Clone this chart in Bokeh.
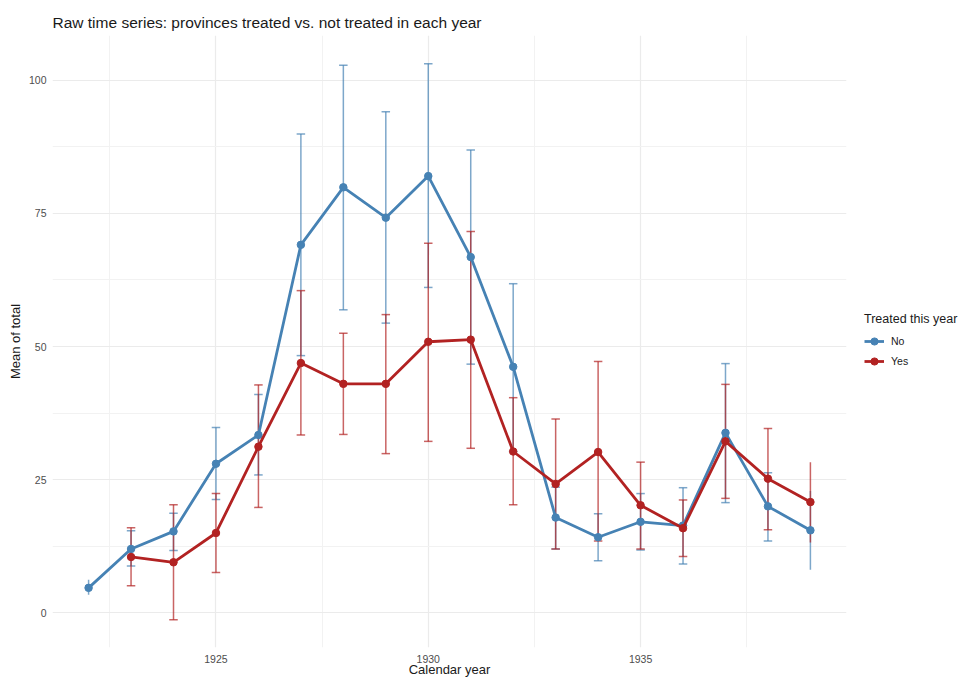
from bokeh.plotting import figure
from bokeh.models import Legend, LegendItem, FixedTicker, Range1d
from bokeh.embed import file_html
from bokeh.resources import INLINE

# Mean of total by calendar year, with confidence bounds, per treatment group
years_no = [1922, 1923, 1924, 1925, 1926, 1927, 1928, 1929, 1930,
            1931, 1932, 1933, 1934, 1935, 1936, 1937, 1938, 1939]
mean_no = [4.7, 12.0, 15.3, 28.0, 33.4, 69.1, 79.9, 74.2, 82.0,
           66.8, 46.2, 17.9, 14.2, 17.1, 16.4, 33.8, 20.0, 15.5]
lower_no = [3.4, 8.8, 11.7, 21.3, 25.9, 48.3, 56.9, 54.4, 61.1,
            46.7, 30.3, 12.0, 9.8, 11.8, 9.2, 20.7, 13.5, 8.1]
upper_no = [6.2, 15.4, 18.7, 34.8, 41.0, 89.9, 102.8, 94.1, 103.1,
            86.9, 61.8, 23.6, 18.6, 22.4, 23.5, 46.8, 26.3, 22.9]

years_yes = [1923, 1924, 1925, 1926, 1927, 1928, 1929, 1930,
             1931, 1932, 1933, 1934, 1935, 1936, 1937, 1938, 1939]
mean_yes = [10.5, 9.5, 15.0, 31.2, 46.9, 43.0, 43.0, 50.9,
            51.3, 30.3, 24.2, 30.2, 20.2, 15.9, 32.2, 25.2, 20.8]
lower_yes = [5.1, -1.3, 7.6, 19.8, 33.4, 33.5, 29.9, 32.2,
             30.9, 20.3, 12.0, 13.5, 12.0, 10.6, 21.5, 15.6, 13.2]
upper_yes = [16.0, 20.3, 22.4, 42.8, 60.5, 52.5, 56.0, 69.4,
             71.6, 40.4, 36.4, 47.2, 28.3, 21.2, 42.9, 34.6, 28.3]

x_ticks = [1925, 1930, 1935]
x_minor = [1922.5, 1927.5, 1932.5, 1937.5]
y_ticks = [0, 25, 50, 75, 100]
y_minor = [12.5, 37.5, 62.5, 87.5]

groups = [
    ("No", "#4682B4", years_no, mean_no, lower_no, upper_no),
    ("Yes", "#B22222", years_yes, mean_yes, lower_yes, upper_yes),
]

FONT = "Liberation Sans"
CAP = 0.1  # half-width of the error-bar caps, in years

p = figure(frame_width=794, frame_height=612, output_backend="svg",
           toolbar_location=None,
           x_range=Range1d(1921.15, 1939.85), y_range=Range1d(-6.5, 108.4),
           min_border_left=52, min_border_right=0, min_border_top=35,
           min_border_bottom=0)

p.background_fill_color = "white"
p.border_fill_color = "white"
p.outline_line_color = None

p.title.text = "Raw time series: provinces treated vs. not treated in each year"
p.title.text_font = FONT
p.title.text_font_size = "15.5px"
p.title.text_font_style = "normal"
p.title.text_color = "#1A1A1A"
p.title.offset = 0

p.xaxis.ticker = FixedTicker(ticks=x_ticks, minor_ticks=x_minor)
p.yaxis.ticker = FixedTicker(ticks=y_ticks, minor_ticks=y_minor)
p.xaxis.axis_label = "Calendar year"
p.yaxis.axis_label = "Mean of total"
for ax in (p.xaxis[0], p.yaxis[0]):
    ax.axis_line_color = None
    ax.major_tick_line_color = None
    ax.minor_tick_line_color = None
    ax.major_tick_out = 0
    ax.minor_tick_out = 0
    ax.major_tick_in = 0
    ax.minor_tick_in = 0
    ax.major_label_text_font = FONT
    ax.major_label_text_font_size = "10.5px"
    ax.major_label_text_color = "#4D4D4D"
    ax.axis_label_text_font = FONT
    ax.axis_label_text_font_size = "13px"
    ax.axis_label_text_font_style = "normal"
    ax.axis_label_text_color = "#1A1A1A"
p.xaxis.major_label_standoff = 7
p.yaxis.major_label_standoff = 6
p.xaxis.axis_label_standoff = -4
p.yaxis.axis_label_standoff = 3

for g in (p.xgrid[0], p.ygrid[0]):
    g.grid_line_color = "#EBEBEB"
    g.grid_line_width = 1.2
    g.minor_grid_line_color = "#F2F2F2"
    g.minor_grid_line_width = 1

first, last = years_no[0], years_no[-1]
for label, color, yrs, mean, lo, hi in groups:
    # vertical error bars
    p.segment(x0=yrs, y0=lo, x1=yrs, y1=hi, line_color=color,
              line_alpha=0.7, line_width=1.5)
    # caps on interior years only
    cx = [x for x in yrs if first < x < last]
    clo = [l for x, l in zip(yrs, lo) if first < x < last]
    chi = [h for x, h in zip(yrs, hi) if first < x < last]
    for cy in (clo, chi):
        p.segment(x0=[x - CAP for x in cx], y0=cy, x1=[x + CAP for x in cx],
                  y1=cy, line_color=color, line_alpha=0.7, line_width=1.5)

renderers = {}
for label, color, yrs, mean, lo, hi in groups:
    ln = p.line(yrs, mean, line_color=color, line_width=2.8)
    pt = p.scatter(yrs, mean, size=7.5, fill_color=color, line_color=color)
    renderers[label] = [ln, pt]

legend = Legend(items=[LegendItem(label=k, renderers=v) for k, v in renderers.items()],
                title="Treated this year", location="center_left",
                border_line_color=None, background_fill_alpha=0,
                label_text_font=FONT, label_text_font_size="10.5px",
                label_text_color="#1A1A1A",
                title_text_font=FONT, title_text_font_size="12.5px",
                title_text_font_style="normal", title_text_color="#1A1A1A",
                glyph_width=20, glyph_height=18, spacing=2, padding=2,
                margin=18, label_standoff=7, title_standoff=6)
p.add_layout(legend, "right")

open("out.html", "w").write(file_html(p, INLINE))
